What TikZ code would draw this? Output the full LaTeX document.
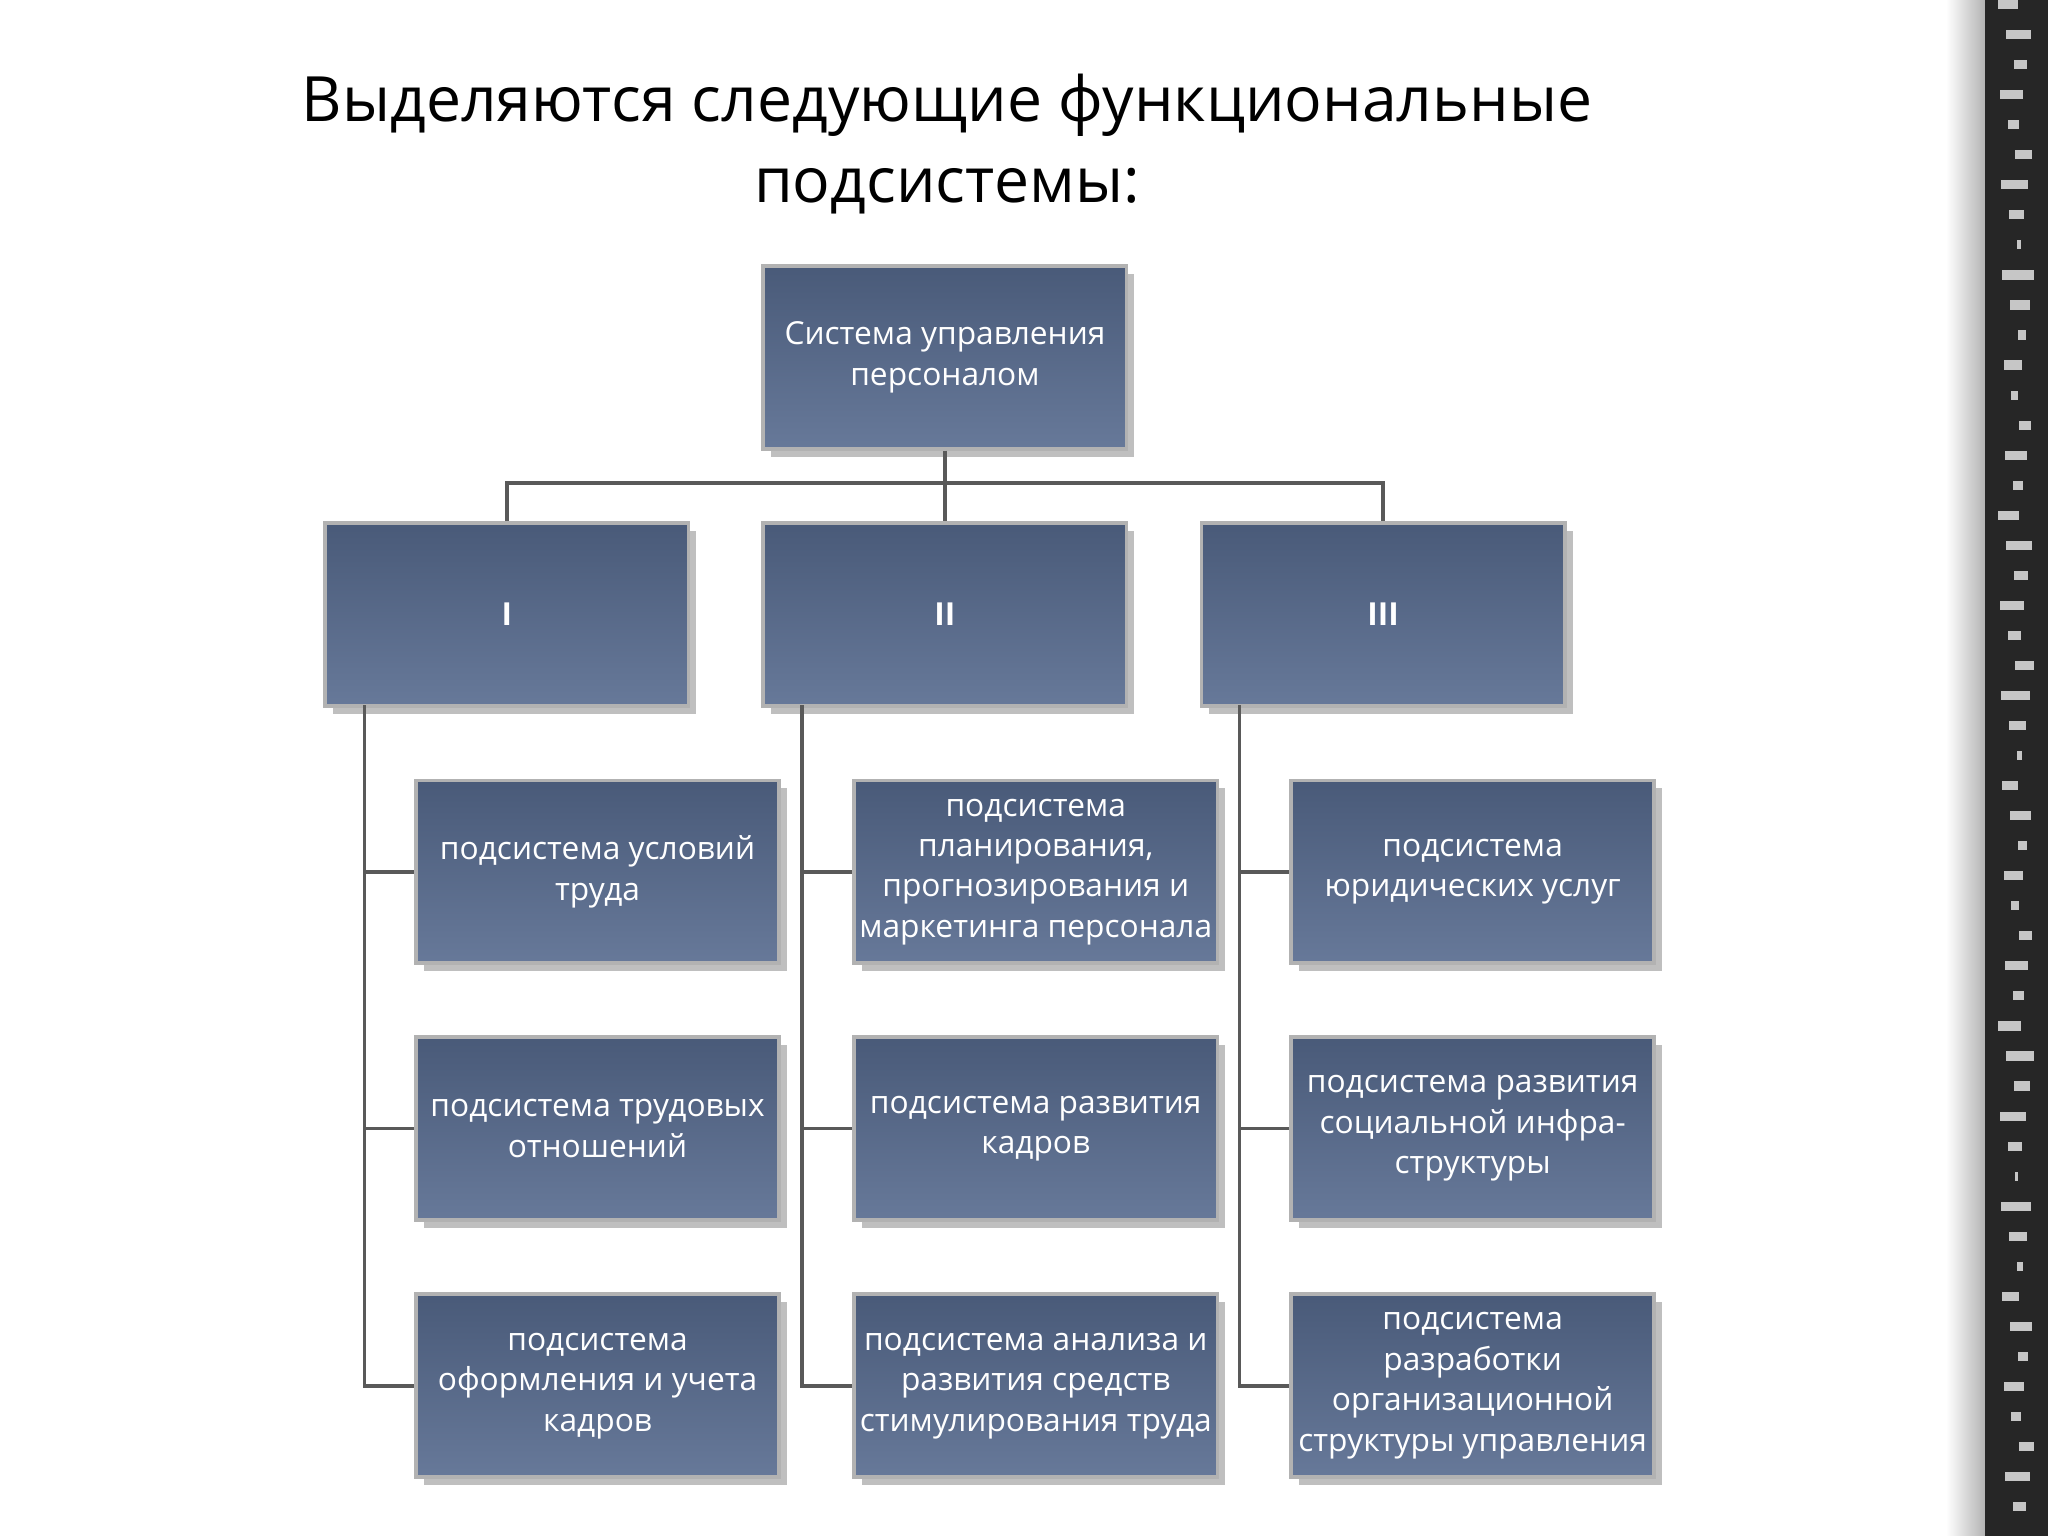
\documentclass[tikz,border=0pt]{standalone}
\usepackage{fontspec}
\setmainfont{Open Sans}
\usetikzlibrary{shadows}
\begin{document}
\begin{tikzpicture}[x=0.01cm,y=-0.01cm,
 bx/.style={draw=white!70!black,line width=0.8pt,top color=#1!85!black,bottom color=#1!90!white,
   minimum width=2.78cm,minimum height=1.40cm,inner sep=1pt,align=center,text=white,
   font=\fontsize{6.9}{8.8}\selectfont,drop shadow={opacity=0.5,shadow xshift=0.6mm,shadow yshift=-0.6mm}},
 ln/.style={draw=gray!70!black,line width=0.8pt}]
\definecolor{bcol}{HTML}{566A8E}
\useasboundingbox (0,0) rectangle (1568,1176);
\fill[white] (0,0) rectangle (1568,1176);
\shade[left color=white, right color=gray!60] (1490,0) rectangle (1520,1176);
\fill[black!85] (1520,0) rectangle (1568,1176);
\foreach \y in {0,23,...,1160}{
 \pgfmathsetmacro\xa{1530+mod(\y,17)}\pgfmathsetmacro\xb{1545+mod(\y,13)}
 \fill[gray!45] (\xa,\y) rectangle (\xb,{\y+7});}
\node[font=\fontsize{13.6}{17.6}\selectfont,align=center] (t) at (725,110)
 {Выделяются следующие функциональные\\подсистемы:};
\node[bx=bcol] (top) at (723.5,273.5) {Система управления\\персоналом};
\node[bx=bcol] (a) at (388,470.5) {\textbf{I}};
\node[bx=bcol] (b) at (723.5,470.5) {\textbf{II}};
\node[bx=bcol] (c) at (1059,470.5) {\textbf{III}};
\node[bx=bcol] (a1) at (457.5,667.5) {подсистема условий\\труда};
\node[bx=bcol] (a2) at (457.5,864) {подсистема трудовых\\отношений};
\node[bx=bcol] (a3) at (457.5,1061) {подсистема\\оформления и учета\\кадров};
\node[bx=bcol] (b1) at (793,667.5) {подсистема\\планирования,\\прогнозирования и\\маркетинга персонала};
\node[bx=bcol] (b2) at (793,864) {подсистема развития\\кадров};
\node[bx=bcol] (b3) at (793,1061) {подсистема анализа и\\развития средств\\стимулирования труда};
\node[bx=bcol] (c1) at (1127.5,667.5) {подсистема\\юридических услуг};
\node[bx=bcol] (c2) at (1127.5,864) {подсистема развития\\социальной инфра-\\структуры};
\node[bx=bcol] (c3) at (1127.5,1061) {подсистема\\разработки\\организационной\\структуры управления};
\draw[ln] (top.south) -- (b.north);
\draw[ln] (a.north) -- ++(0,-29) -| (c.north);
\foreach \p/\x in {a/279,b/614,c/949}{
 \draw[ln] (\x,540) -- (\x,1061) -- (\p3.west);
 \draw[ln] (\x,667.5) -- (\p1.west);
 \draw[ln] (\x,864) -- (\p2.west);}
\end{tikzpicture}
\end{document}
